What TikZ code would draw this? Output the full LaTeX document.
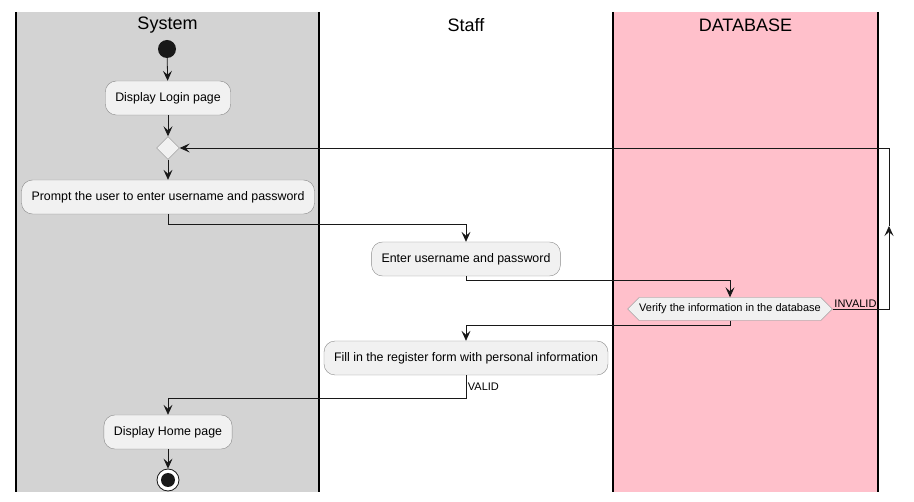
\documentclass[tikz,border=0pt]{standalone}
\usepackage{fontspec}
\setmainfont{Liberation Sans}
\usetikzlibrary{arrows.meta}
\usetikzlibrary{shapes.geometric}
\usetikzlibrary{shapes.symbols}

\definecolor{lanegray}{HTML}{D3D3D3}
\definecolor{lanepink}{HTML}{FFC0CB}
\definecolor{boxfill}{HTML}{F1F1F1}
\definecolor{boxline}{HTML}{8A8A8A}
\definecolor{flowline}{HTML}{181818}

\tikzset{
    action/.style={rectangle,rounded corners=11pt,draw=boxline,fill=boxfill,
        minimum height=34pt,inner xsep=10pt,font=\fontsize{12.4}{14}\selectfont},
    flow/.style={draw=flowline,line width=0.8pt,
        -{Stealth[length=10pt,width=9pt,inset=4pt]}},
    tag/.style={font=\fontsize{11}{13}\selectfont,inner sep=1.5pt}
}

\begin{document}
\begin{tikzpicture}[x=1pt,y=-1pt]
    \useasboundingbox (0,0) rectangle (914,502);
    % swimlanes
    \foreach \xa/\xb/\col/\name in {16/319/lanegray/System,319/613/white/Staff,613/878/lanepink/DATABASE} {
        \fill[\col] (\xa,12) rectangle (\xb,492);
        \node[font=\fontsize{18}{20}\selectfont] at ({(\xa+\xb)/2},25) {\name};
    }
    \foreach \x in {16,319,613,878} {
        \draw[line width=1.5pt] (\x,12) -- (\x,492);
    }
    \node at (167,49) [circle,fill=flowline,minimum size=18pt,inner sep=0pt] (start) {};
    \node at (168,98) [action] (login) {Display Login page};
    \node at (168,148) [diamond,draw=boxline,fill=boxfill,minimum size=23pt,inner sep=0pt] (merge) {};
    \node at (168,197) [action] (prompt) {Prompt the user to enter username and password};
    \node at (466,259) [action] (enter) {Enter username and password};
    \node at (730,309) [signal,signal to=east and west,draw=boxline,fill=boxfill,
        minimum height=23pt,inner xsep=0pt,font=\fontsize{11}{13}\selectfont] (verify) {Verify the information in the database};
    \node at (466,358) [action] (fill) {Fill in the register form with personal information};
    \node at (168,432) [action] (home) {Display Home page};
    \node at (168,480) [circle,draw=flowline,fill=white,line width=0.8pt,minimum size=22pt,inner sep=0pt] (stop) {};
    \node at (168,480) [circle,fill=flowline,minimum size=14pt,inner sep=0pt] (stopdot) {};
    \coordinate (loopB) at (889,309);
    \coordinate (loopM) at (889,226);
    \coordinate (loopT) at (889,148);
    \draw[flow] (start) -- (login);
    \draw[flow] (login) -- (merge);
    \draw[flow] (merge) -- (prompt);
    \draw[flow] (prompt.south) -- ++(0,10) -| (enter.north);
    \draw[flow] (enter.south) -- ++(0,4) -| (verify.north);
    \draw[flow] (verify.south) -- ++(0,5) -| (fill.north);
    \draw[flow] (fill.south) -- ++(0,23) node[tag,midway,right] {VALID} -| (home.north);
    \draw[flow] (home) -- (stop);
    \draw[flow] (verify.east) node[tag,above right,inner sep=1.5pt] {INVALID} -- (loopB) -- (loopM);
    \draw[flow] (loopM) -- (loopT) -- (merge.east);
\end{tikzpicture}
\end{document}
